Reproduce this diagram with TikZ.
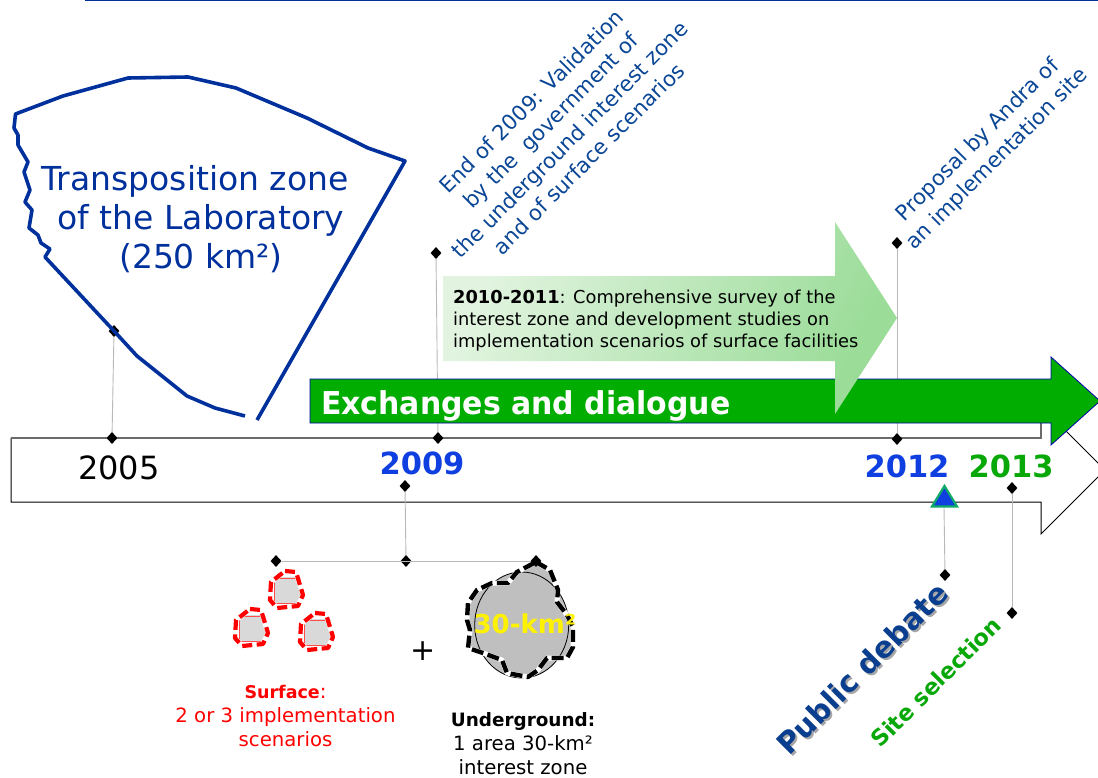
\documentclass[tikz,border=0pt]{standalone}
\usepackage{fontspec}
\setmainfont{DejaVu Sans}
\usetikzlibrary{shapes.geometric}
\definecolor{zoneblue}{HTML}{00309C}
\definecolor{noteblue}{HTML}{0A4696}
\definecolor{yearblue}{HTML}{0F3FE0}
\definecolor{yeargreen}{HTML}{08A808}
\definecolor{bandgreen}{HTML}{00AD00}
\definecolor{debateblue}{HTML}{0A3F8F}
\definecolor{triedge}{HTML}{0FA968}
\definecolor{lightL}{RGB}{226,244,224}
\definecolor{lightR}{RGB}{154,220,152}
\tikzset{
  mark dot/.style={diamond,fill=black,inner sep=0pt,minimum width=11pt,minimum height=12pt},
  leader/.style={draw=black!28,line width=0.9pt},
  year/.style={inner sep=0pt,font=\bfseries\fontsize{30.5}{36}\selectfont},
  note/.style={inner sep=0pt,align=center,rotate=45,text=noteblue,font=\fontsize{21.2}{27}\selectfont},
  lower/.style={inner sep=0pt,align=center,font=\fontsize{19.7}{24}\selectfont},
  zone/.style={draw=zoneblue,line width=3.6pt,line join=round},
  redblob/.pic={
    \fill[black!15] (-13,-13) rectangle (13,14);
    \draw[red!70!white,line width=1pt] (-13,-12) -- (13,-12) -- (13,13) -- (-13,13) -- cycle;
    \draw[white,line width=5pt,line join=round] (-2,-19) -- (9,-18) -- (16,5) -- (11,16) -- (-10,18) -- (-17,10) -- (-16,-8) -- cycle;
    \draw[red,line width=4.2pt,dash pattern=on 10pt off 4.5pt,line join=round] (-2,-19) -- (9,-18) -- (16,5) -- (11,16) -- (-10,18) -- (-17,10) -- (-16,-8) -- cycle;
  },
}
\newcommand{\ugpath}{(536,562) -- (550,570) -- (558,590) -- (557,602) -- (567,615) -- (573,627) -- (573,647) -- (567,658) -- (547,658) -- (538,670) -- (528,677) -- (507,673) -- (502,660) -- (483,653) -- (468,648) -- (470,630) -- (467,620) -- (468,603) -- (477,590) -- (492,583) -- (508,583) -- (517,572) -- cycle}
\begin{document}
\begin{tikzpicture}[x=1pt,y=-1pt]
\useasboundingbox (0,0) rectangle (1098,778);
\begin{scope}
\clip (0,0) rectangle (1098,778);
% top rule
\draw[zoneblue,line width=2pt] (85,0) -- (1098,0);
% timeline arrow
\draw[black,line width=1pt,fill=white,line join=miter] (11,438) -- (1041,438) -- (1041,406) -- (1105,470) -- (1041,534) -- (1041,502) -- (11,502) -- cycle;
\draw[black!58,line width=2pt] (11,438) -- (1041,438) -- (1041,420);
% named marks
\node[mark dot] (m2005a) at (114,331) {};
\node[mark dot] (m2005b) at (112,438) {};
\node[mark dot] (m2009a) at (436,253) {};
\node[mark dot] (m2009b) at (438,438) {};
\node[mark dot] (m2012a) at (897,243) {};
\node[mark dot] (m2012b) at (897,439) {};
\node[mark dot] (m2009c) at (405,486) {};
\node[mark dot] (m2009d) at (406,561) {};
\node[mark dot] (mleft) at (276,561) {};
\node[mark dot] (mdebate) at (945,575) {};
\node[mark dot] (m2013a) at (1012,488) {};
\node[mark dot] (m2013b) at (1012,613) {};
\coordinate (tribase) at (944,507);
\coordinate (mrightc) at (536,561);
\draw[leader] (m2005a) -- (m2005b);
\draw[leader] (m2009a) -- (m2009b);
\draw[leader] (m2012a) -- (m2012b);
\draw[leader] (m2009c) -- (m2009d);
\draw[leader] (mleft) -- (mrightc);
\draw[leader] (tribase) -- (mdebate);
\draw[leader] (m2013a) -- (m2013b);
% green band
\draw[draw=blue!70!black,line width=0.8pt,fill=bandgreen,line join=miter] (310,379) -- (1051,379) -- (1051,357) -- (1100,401) -- (1051,445) -- (1051,423) -- (310,423) -- cycle;
\node[anchor=base west,inner sep=0pt,text=white,font=\bfseries\fontsize{31.5}{36}\selectfont] (band) at (321,414) {\scalebox{0.95}[1]{Exchanges and dialogue}};
% light arrow
\shade[left color=lightL,right color=lightR,shading angle=65]
  (443,276) -- (835,276) -- (835,222) -- (897,318) -- (835,414) -- (835,361) -- (443,361) -- cycle;
\node[anchor=north west,inner sep=0pt,align=left,font=\fontsize{17.8}{22}\selectfont] (survey) at (453,290)
  {\textbf{2010-2011}: Comprehensive survey of the\\interest zone and development studies on\\implementation scenarios of surface facilities};
% zone outline
\draw[zone] (257,420) -- (405,161) -- (368,148) -- (307,118) -- (236,88) -- (188,77) -- (128,78) -- (63,96) -- (15.5,114)
  -- (14,128) -- (18,135) -- (18,145) -- (28,162) -- (24,172) -- (30,190) -- (25,202) -- (32,210) -- (29,228) -- (38,235)
  -- (41,243) -- (50,249) -- (45,257) -- (114,331) -- (137,356) -- (187,396) -- (215,408) -- (245,416);
\node[inner sep=0pt,align=center,text=zoneblue,font=\fontsize{33}{39}\selectfont] (zonetext) at (195,219)
  {Transposition zone\\\hspace*{12pt}of the Laboratory\\\hspace*{12pt}(250 km²)};
% years
\node[year,text=black,font=\fontsize{32}{36}\selectfont] (y2005) at (119,468) {2005};
\node[year,text=yearblue] (y2009) at (422,463) {2009};
\node[year,text=yearblue] (y2012) at (907,466) {2012};
\node[year,text=yeargreen] (y2013) at (1011,466) {2013};
% triangle
\draw[draw=triedge,line width=2.2pt,fill=yearblue,line join=miter] (944.5,486) -- (957,506.5) -- (932,506.5) -- cycle;
% rotated notes
\node[note] (n2009) at (560,130) {End of 2009: Validation\\by the\ \ government of\\the underground interest zone\\and of surface scenarios};
\node[note] (n2012) at (988,150) {Proposal by Andra of\\an implementation site};
% surface scenarios
\pic at (287,590) {redblob};
\pic at (252,628) {redblob};
\pic at (317,632) {redblob};
\node[inner sep=0pt,font=\fontsize{30}{32}\selectfont] (plus) at (423,651) {+};
% underground area
\fill[black!25] \ugpath;
\draw[black,line width=0.8pt,fill=black!25] (521.7,625) ellipse [x radius=47,y radius=53];
\draw[white,line width=5pt,line join=round] \ugpath;
\draw[black,line width=4.4pt,dash pattern=on 12pt off 4.5pt,line join=round] \ugpath;
\node[inner sep=0pt,text=yellow,font=\bfseries\fontsize{26}{28}\selectfont] (km) at (525,624) {30-km²};
\node[mark dot] (mright) at (536,561) {};
% captions
\node[lower,text=red] (surf) at (285.5,716) {{\bfseries\fontsize{17.5}{24}\selectfont Surface}:\\2 or 3 implementation\\scenarios};
\node[lower] (under) at (523,744) {{\bfseries\fontsize{18.4}{24}\selectfont Underground:}\\1 area 30-km²\\interest zone};
% rotated labels
\node[inner sep=0pt,rotate=45,text=black!35,font=\bfseries\fontsize{29.5}{36}\selectfont] at (864,670) {Public debate};
\node[inner sep=0pt,rotate=45,text=debateblue,font=\bfseries\fontsize{29.5}{36}\selectfont] (debate) at (862,668) {Public debate};
\node[inner sep=0pt,rotate=45,text=yeargreen,font=\bfseries\fontsize{22.5}{26}\selectfont] (site) at (936,682) {Site selection};
\end{scope}
\end{tikzpicture}
\end{document}
